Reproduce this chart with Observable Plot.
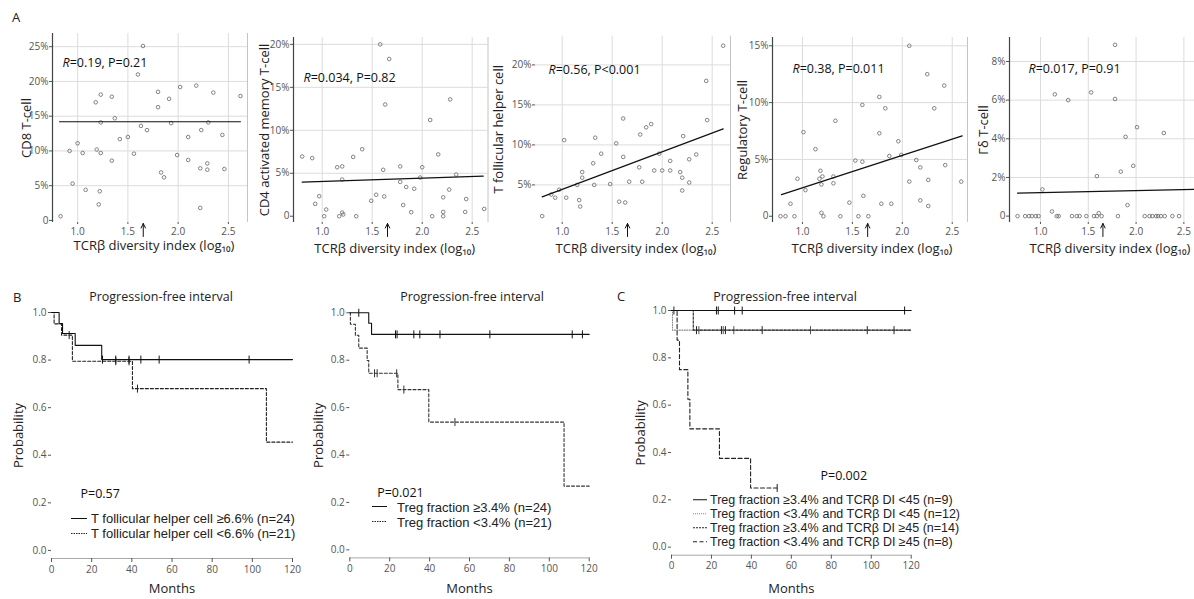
<!DOCTYPE html>
<html><head><meta charset="utf-8">
<script src="https://cdn.jsdelivr.net/npm/d3@7"></script>
<script src="https://cdn.jsdelivr.net/npm/@observablehq/plot@0.6"></script>
<style>
html,body{margin:0;padding:0;background:#fff;}
#root{position:relative;width:1194px;height:599px;overflow:hidden;font-family:'Open Sans','Noto Sans',sans-serif;color:#222;}
</style></head>
<body><div id="root"></div>
<script>
// ---------------- DATA ----------------
const xTicks = [1.0, 1.5, 2.0, 2.5];
const cutoffDI = [1.653];           // log10(45)
const xTitle = "TCRβ diversity index (log₁₀)";

const cd8X = [0.83,0.92,1.00,0.95,1.05,1.08,1.18,1.23,1.19,1.23,1.22,1.21,1.23,1.34,1.37,1.34,1.42,1.50,1.56,1.60,1.65,1.63,1.69,1.80,1.80,1.83,1.86,1.91,1.93,1.99,2.02,2.18,2.10,2.10,2.23,2.22,2.22,2.30,2.29,2.29,2.35,2.44,2.46,2.62];
const cd8Y = [0.6,10.0,11.1,5.3,9.7,4.4,17.0,18.1,10.2,9.7,4.2,2.3,14.1,17.8,14.7,8.6,11.7,12.0,9.6,21.0,25.1,13.6,13.0,18.5,16.3,6.9,6.2,17.5,14.0,9.4,19.2,19.4,8.7,12.0,13.0,7.5,1.8,14.1,8.2,7.3,18.4,12.3,7.4,17.9];
const cd8FitX = [0.82, 2.62], cd8FitY = [14.2, 14.2];

const cd4X = [0.80,0.90,0.97,0.93,1.04,1.02,1.15,1.20,1.20,1.20,1.21,1.17,1.31,1.34,1.40,1.49,1.54,1.58,1.67,1.63,1.61,1.62,1.78,1.78,1.84,1.81,1.89,1.92,1.98,2.00,2.08,2.10,2.16,2.21,2.21,2.21,2.27,2.28,2.34,2.44,2.43,2.62];
const cd4Y = [6.95,6.76,2.33,1.44,0.78,0,5.7,5.8,4.27,0.43,0.2,0,6.9,0,7.8,1.8,2.5,20.0,18.3,13.0,5.4,2.3,5.8,4.0,3.4,1.3,0.47,3.2,4.5,5.7,11.2,0,7.2,2.2,0.5,0,3.1,13.6,4.85,2.0,0.5,0.85];
const cd4FitX = [0.80, 2.61], cd4FitY = [3.96, 4.66];

const tfhX = [0.80,0.89,0.93,0.97,1.02,1.04,1.17,1.18,1.20,1.20,1.15,1.31,1.33,1.32,1.39,1.48,1.54,1.57,1.63,1.61,1.61,1.67,1.77,1.78,1.80,1.84,1.89,1.92,1.97,2.00,2.08,2.08,2.18,2.21,2.20,2.20,2.27,2.27,2.34,2.44,2.45,2.61];
const tfhY = [1.1,3.8,3.4,4.4,10.6,3.4,3.1,2.3,6.6,5.9,5.0,7.7,10.9,5.0,8.9,5.1,10.2,2.9,2.8,13.3,8.5,5.4,7.2,11.3,5.4,12.2,12.6,6.8,8.9,6.8,6.8,8.0,6.6,11.1,5.9,4.3,5.3,8.2,8.8,18.0,13.1,22.4];
const tfhFitX = [0.80, 2.61], tfhFitY = [3.5, 12.0];

const tregX = [0.78,0.83,0.92,0.88,0.95,1.01,1.03,1.13,1.17,1.18,1.20,1.19,1.19,1.21,1.31,1.31,1.33,1.38,1.47,1.53,1.56,1.60,1.60,1.61,1.66,1.77,1.77,1.79,1.83,1.89,1.87,1.96,1.99,2.07,2.07,2.14,2.18,2.18,2.25,2.26,2.26,2.32,2.42,2.43,2.59];
const tregY = [0,0,0,1.1,3.3,7.4,2.3,5.9,3.3,4.0,3.5,2.8,0.3,0,2.9,3.5,8.4,0,1.2,4.9,0,4.8,9.8,1.8,0,7.3,10.5,1.1,9.5,1.1,5.3,6.6,5.4,15.0,3.05,4.95,4.3,1.4,12.5,3.2,0.9,9.5,11.5,4.5,3.05];
const tregFitX = [0.79, 2.60], tregFitY = [1.9, 7.07];

const gdX = [0.76,0.84,0.88,0.91,0.95,0.98,1.17,1.19,1.33,1.38,1.41,1.48,1.56,1.59,1.64,1.81,2.09,2.14,2.17,2.21,2.23,2.26,2.30,2.38,2.45,1.12,1.61,1.02,1.15,1.29,1.53,1.59,1.78,1.78,1.84,1.89,1.91,1.97,2.01,2.29];
const gdY = [0,0,0,0,0,0,0,0,0,0,0,0,0,0,0,0,0,0,0,0,0,0,0,0,0,0.24,0.15,1.38,6.3,6.0,6.4,2.07,8.86,6.06,2.3,4.1,0.57,2.6,4.6,4.3];
const gdFitX = [0.76, 2.61], gdFitY = [1.19, 1.38];

// Kaplan-Meier (months, probability)
const monthTicks = [0, 20, 40, 60, 80, 100, 120];
const probTicks = [0, 0.2, 0.4, 0.6, 0.8, 1.0];

const tfhHiT = [0, 3.8, 5.5, 11.8, 25.0, 120];
const tfhHiS = [1, 0.954, 0.912, 0.862, 0.802, 0.802];
const tfhHiCens = [25.4, 32, 38.6, 44.5, 53.6, 98.4];
const tfhLoT = [0, 1.3, 5.0, 10.4, 40.3, 107, 120];
const tfhLoS = [1, 0.952, 0.905, 0.795, 0.68, 0.455, 0.455];
const tfhLoCens = [8.8, 32, 38.6, 42.8];

const tregHiT = [0, 9.5, 10.9, 120];
const tregHiS = [1, 0.956, 0.909, 0.909];
const tregHiCens = [4.5, 22.9, 23.7, 32.1, 35.1, 45.2, 70.2, 111.5, 116.6];
const tregLoT = [0, 0.3, 2.8, 4.5, 8.7, 9.5, 24.1, 39.6, 107.4, 120];
const tregLoS = [1, 0.952, 0.905, 0.851, 0.799, 0.745, 0.676, 0.539, 0.269, 0.269];
const tregLoCens = [12.4, 13.7, 23.5, 27.1, 52.7];

const g1T = [0, 120], g1S = [1, 1], g1Cens = [22.5, 23.4, 31.6, 35.4, 116.7];
const g2T = [0, 0.5, 120], g2S = [1, 0.917, 0.917], g2Cens = [13.7, 25.9, 31.2, 69.6];
const g3T = [0, 10.9, 120], g3S = [1, 0.917, 0.917], g3Cens = [1.2, 12.5, 25, 27, 45.4, 98, 111.4];
const g4T = [0, 2.8, 4, 8.2, 9.2, 24, 39.6, 52.9], g4S = [1, 0.875, 0.75, 0.625, 0.5, 0.375, 0.25, 0.25], g4Cens = [52.9];

// ---------------- HELPERS ----------------
const root = document.getElementById("root");
const FONT = "'Open Sans','Noto Sans',sans-serif";
const LEGEND_FONT = "'Liberation Sans','Open Sans',sans-serif";

function put(svg, left, top) {
  svg.style.position = "absolute";
  svg.style.left = left + "px";
  svg.style.top = top + "px";
  root.appendChild(svg);
}
function htmlText(txt, x, y, size, anchor) {
  const d = document.createElement("div");
  d.textContent = txt;
  Object.assign(d.style, {position: "absolute", left: x + "px", top: y + "px", fontSize: size + "px",
    lineHeight: "1", whiteSpace: "nowrap", color: "#222",
    transform: anchor === "middle" ? "translate(-50%,-50%)" : "translate(0,-50%)"});
  root.appendChild(d);
}
function italicR(svg) {
  svg.querySelectorAll("text").forEach(t => {
    const s = t.textContent;
    if (/^R=/.test(s) && t.children.length === 0) {
      t.textContent = "";
      const a = document.createElementNS("http://www.w3.org/2000/svg", "tspan");
      a.setAttribute("font-style", "italic");
      a.textContent = "R";
      t.appendChild(a);
      t.appendChild(document.createTextNode(s.slice(1)));
    }
  });
}
const pct = d => d === 0 ? "0" : d + "%";
const thinArrow = {draw(ctx, l) {
  ctx.moveTo(0, 0); ctx.lineTo(0, -l);
  ctx.moveTo(-2.2, -l + 4.5); ctx.lineTo(0, -l); ctx.lineTo(2.2, -l + 4.5);
}};

function scatter(c) {
  const pts = c.xs.map((x, i) => ({x, y: c.ys[i]}));
  const fit = c.fitX.map((x, i) => ({x, y: c.fitY[i]}));
  const svg = Plot.plot({
    width: c.width, height: 260,
    marginLeft: c.mL, marginRight: c.mR, marginTop: c.mT, marginBottom: 38,
    style: {fontFamily: FONT, fontSize: "10px", color: "#555", background: "transparent", overflow: "visible"},
    x: {domain: c.xDomain},
    y: {domain: c.yDomain},
    marks: [
      Plot.gridX(xTicks, {stroke: "#dcdcdc", strokeOpacity: 1}),
      Plot.gridY(c.yTicks.filter(d => d > 0), {stroke: "#dcdcdc", strokeOpacity: 1}),
      c.rightRule ? Plot.ruleX([c.xDomain[1]], {stroke: "#c4c4c4"}) : null,
      Plot.axisX(xTicks, {tickSize: 2, tickPadding: 3, tickFormat: d3.format(".1f"), label: null}),
      Plot.axisY(c.yTicks, {tickSize: 3, tickPadding: 1, tickFormat: pct, label: null}),
      c.axisLine ? Plot.ruleX([c.xDomain[0]], {stroke: "#444", strokeWidth: 1.2}) : null,
      Plot.dot(pts, {x: "x", y: "y", r: 1.8, stroke: "#666", strokeWidth: 0.8, fill: "none"}),
      Plot.line(fit, {x: "x", y: "y", stroke: "#111", strokeWidth: 1.2}),
      Plot.text([c.annot], {text: d => d, frameAnchor: "top-left", textAnchor: "start", lineAnchor: "middle",
        dx: c.adx, dy: c.ady, fontSize: 12.5, fill: "#111"}),
      Plot.text([c.ylabel], {text: d => d, frameAnchor: "left", rotate: -90, textAnchor: "middle", lineAnchor: "middle",
        dx: c.ydx, fontSize: 13, fill: "#222"}),
      Plot.text([xTitle], {text: d => d, frameAnchor: "bottom", textAnchor: "middle", lineAnchor: "middle",
        dx: c.xdx, dy: c.xdy, fontSize: 13, fill: "#222"}),
      Plot.vector(cutoffDI, {x: d => d, frameAnchor: "bottom", anchor: "start", length: 13, rotate: 0,
        shape: thinArrow, dy: 14, stroke: "#111", strokeWidth: 1})
    ]
  });
  italicR(svg);
  put(svg, c.left, 0);
}

function survAt(T, S, t) { let s = S[0]; for (let i = 0; i < T.length; i++) if (T[i] <= t) s = S[i]; return s; }
const tickSym = {draw(ctx, size) { const h = Math.sqrt(size / Math.PI); ctx.moveTo(0, -h); ctx.lineTo(0, h); }};
const yFloor = -0.034;

function km(c) {
  const marks = [
    Plot.ruleY([yFloor], {stroke: "#a8a8a8"}),
    Plot.axisX(monthTicks, {tickSize: 4, tickPadding: 3, label: null}),
    Plot.axisY(probTicks, {tickSize: 3, tickPadding: 2, tickFormat: d3.format(".1f"), label: null})
  ];
  for (const g of c.curves) {
    marks.push(Plot.line(g.T.map((t, i) => ({t, s: g.S[i]})),
      {x: "t", y: "s", curve: "step-after", stroke: g.color, strokeWidth: 1.1, strokeDasharray: g.dash || null}));
    marks.push(Plot.dot(g.cens.map(t => ({t, s: survAt(g.T, g.S, t)})),
      {x: "t", y: "s", symbol: tickSym, r: 4, fill: "none", stroke: g.censColor || g.color, strokeWidth: 1}));
  }
  marks.push(
    Plot.text(["Months"], {text: d => d, frameAnchor: "bottom", textAnchor: "middle", lineAnchor: "middle", dy: c.mdy, fontSize: 13, fill: "#222"}),
    Plot.text(["Probability"], {text: d => d, frameAnchor: "left", rotate: -90, textAnchor: "middle", lineAnchor: "middle", dx: c.pdx, fontSize: 13, fill: "#222"}),
    Plot.text([c.pval], {text: d => d, frameAnchor: "bottom-left", textAnchor: "start", lineAnchor: "middle", dx: c.vdx, dy: c.vdy, fontSize: 12.5, fill: "#111"})
  );
  const svg = Plot.plot({
    width: c.width, height: 299,
    marginLeft: c.mL, marginRight: c.mR, marginTop: c.mT, marginBottom: c.mB,
    style: {fontFamily: FONT, fontSize: "10px", color: "#555", background: "transparent", overflow: "visible"},
    x: {domain: [0, 120]},
    y: {domain: [yFloor, 1]},
    marks
  });
  put(svg, c.left, 300);
}

function legend(items, x, ys, len, gap, size) {
  items.forEach((it, i) => {
    const row = document.createElement("div");
    Object.assign(row.style, {position: "absolute", left: x + "px", top: ys[i] + "px", transform: "translateY(-50%)",
      display: "flex", alignItems: "center", whiteSpace: "nowrap", fontSize: size + "px", color: "#222",
      lineHeight: "1", fontFamily: LEGEND_FONT});
    const ns = "http://www.w3.org/2000/svg";
    const s = document.createElementNS(ns, "svg");
    s.setAttribute("width", len); s.setAttribute("height", 4);
    const l = document.createElementNS(ns, "line");
    l.setAttribute("x1", 0); l.setAttribute("x2", len); l.setAttribute("y1", 2); l.setAttribute("y2", 2);
    l.setAttribute("stroke", it.color); l.setAttribute("stroke-width", 1.1);
    if (it.dash) l.setAttribute("stroke-dasharray", it.dash);
    s.appendChild(l);
    const sp = document.createElement("span");
    sp.textContent = it.label;
    sp.style.marginLeft = gap + "px";
    row.appendChild(s); row.appendChild(sp);
    root.appendChild(row);
  });
}

// ---------------- PANEL A ----------------
htmlText("A", 12, 17, 13, "start");
scatter({xs: cd8X, ys: cd8Y, fitX: cd8FitX, fitY: cd8FitY, left: 0, width: 248, mL: 52, mR: 1, mT: 33,
  xDomain: [0.75, 2.69], yDomain: [-0.3, 26.9], yTicks: [0, 5, 10, 15, 20, 25], axisLine: true, rightRule: true,
  ylabel: "CD8 T-cell", ydx: -26, annot: "R=0.19, P=0.21", adx: 10, ady: 29, xdx: 4, xdy: 23});
scatter({xs: cd4X, ys: cd4Y, fitX: cd4FitX, fitY: cd4FitY, left: 248, width: 240, mL: 45, mR: 0.5, mT: 37,
  xDomain: [0.713, 2.658], yDomain: [-0.73, 20.8], yTicks: [0, 5, 10, 15, 20], axisLine: true, rightRule: true,
  ylabel: "CD4 activated memory T-cell", ydx: -29, annot: "R=0.034, P=0.82", adx: 10, ady: 40, xdx: 4, xdy: 26});
scatter({xs: tfhX, ys: tfhY, fitX: tfhFitX, fitY: tfhFitY, left: 488, width: 242, mL: 47, mR: 0, mT: 35.6,
  xDomain: [0.733, 2.683], yDomain: [0.3, 23.6], yTicks: [5, 10, 15, 20], axisLine: false, rightRule: true,
  ylabel: "T follicular helper cell", ydx: -37, annot: "R=0.56, P<0.001", adx: 13, ady: 34, xdx: 3, xdy: 26});
scatter({xs: tregX, ys: tregY, fitX: tregFitX, fitY: tregFitY, left: 730, width: 237, mL: 42, mR: 0, mT: 37,
  xDomain: [0.70, 2.653], yDomain: [-0.55, 15.73], yTicks: [0, 5, 10, 15], axisLine: true, rightRule: true,
  ylabel: "Regulatory T-cell", ydx: -30, annot: "R=0.38, P=0.011", adx: 20, ady: 31, xdx: 2, xdy: 26});
scatter({xs: gdX, ys: gdY, fitX: gdFitX, fitY: gdFitY, left: 967, width: 227, mL: 42, mR: 0, mT: 37,
  xDomain: [0.676, 2.611], yDomain: [-0.33, 9.24], yTicks: [0, 2, 4, 6, 8], axisLine: true, rightRule: false,
  ylabel: "Γδ T-cell", ydx: -26, annot: "R=0.017, P=0.91", adx: 19, ady: 31, xdx: 8, xdy: 26});

// ---------------- PANEL B ----------------
htmlText("B", 13, 297, 13, "start");
htmlText("Progression-free interval", 161, 297, 12.5, "middle");
htmlText("Progression-free interval", 472, 297, 12.5, "middle");
km({left: 0, width: 305, mL: 51, mR: 13, mT: 12, mB: 41, mdy: 30, pdx: -33, pval: "P=0.57", vdx: 29, vdy: -65,
  curves: [
    {T: tfhLoT, S: tfhLoS, cens: tfhLoCens, color: "#222", dash: "3,2"},
    {T: tfhHiT, S: tfhHiS, cens: tfhHiCens, color: "#111"}
  ]});
legend([
  {label: "T follicular helper cell ≥6.6% (n=24)", color: "#111"},
  {label: "T follicular helper cell <6.6% (n=21)", color: "#222", dash: "1.5,1"}
], 71, [518, 533], 16, 4, 13);

km({left: 300, width: 305, mL: 49.3, mR: 16.3, mT: 12.3, mB: 41.6, mdy: 31, pdx: -31, pval: "P=0.021", vdx: 27.4, vdy: -64.7,
  curves: [
    {T: tregLoT, S: tregLoS, cens: tregLoCens, color: "#333", dash: "3,2"},
    {T: tregHiT, S: tregHiS, cens: tregHiCens, color: "#111"}
  ]});
legend([
  {label: "Treg fraction ≥3.4% (n=24)", color: "#111"},
  {label: "Treg fraction <3.4% (n=21)", color: "#222", dash: "1.5,1"}
], 372, [506.7, 521.7], 15, 10, 13);

// ---------------- PANEL C ----------------
htmlText("C", 617, 296, 13, "start");
htmlText("Progression-free interval", 785, 297, 12.5, "middle");
km({left: 610, width: 330, mL: 61, mR: 29.3, mT: 10, mB: 44.3, mdy: 33.6, pdx: -31, pval: "P=0.002", vdx: 149, vdy: -79,
  curves: [
    {T: g2T, S: g2S, cens: g2Cens, color: "#888", dash: "1,1.5", censColor: "#555"},
    {T: g3T, S: g3S, cens: g3Cens, color: "#222", dash: "2.5,1.5"},
    {T: g4T, S: g4S, cens: g4Cens, color: "#222", dash: "4,2.5"},
    {T: g1T, S: g1S, cens: g1Cens, color: "#111"}
  ]});
legend([
  {label: "Treg fraction ≥3.4% and TCRβ DI <45 (n=9)", color: "#111"},
  {label: "Treg fraction <3.4% and TCRβ DI <45 (n=12)", color: "#888", dash: "1,1"},
  {label: "Treg fraction ≥3.4% and TCRβ DI ≥45 (n=14)", color: "#222", dash: "2,1"},
  {label: "Treg fraction <3.4% and TCRβ DI ≥45 (n=8)", color: "#222", dash: "4,2.5"}
], 693, [499.5, 513.7, 527.9, 542.1], 14, 3, 12.5);
</script></body></html>
